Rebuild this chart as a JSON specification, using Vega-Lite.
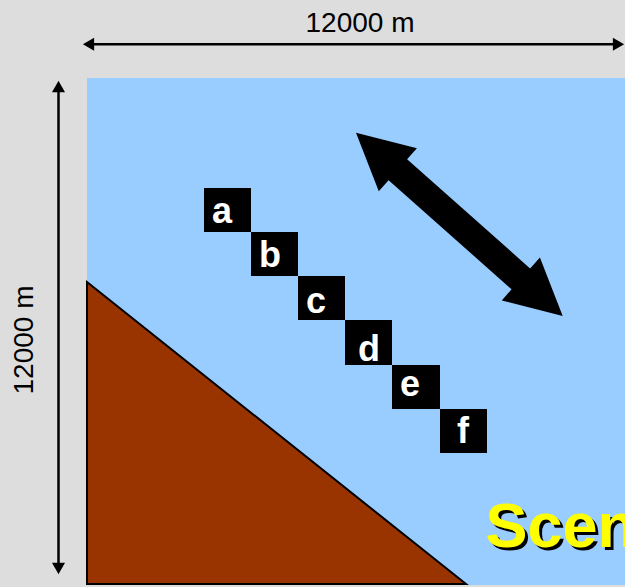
{
  "$schema": "https://vega.github.io/schema/vega-lite/v6.json",
  "width": 625,
  "height": 587,
  "padding": 0,
  "autosize": {"type": "none"},
  "background": "#dddddd",
  "config": {"view": {"stroke": null}, "font": "Liberation Sans"},
  "datasets": {
    "sea": [{"x0": 87, "x1": 640, "y0": 78, "y1": 585}],
    "seabed": [
      {"x": 87, "top": 282, "bottom": 584},
      {"x": 466, "top": 584, "bottom": 584}
    ],
    "stations": [
      {"id": "a", "x0": 204, "x1": 251, "y0": 188, "y1": 232, "lx": 222, "ly": 223},
      {"id": "b", "x0": 251, "x1": 298, "y0": 232, "y1": 276, "lx": 270, "ly": 267},
      {"id": "c", "x0": 298, "x1": 345, "y0": 276, "y1": 320, "lx": 316, "ly": 313},
      {"id": "d", "x0": 345, "x1": 392, "y0": 320, "y1": 365, "lx": 369, "ly": 361},
      {"id": "e", "x0": 392, "x1": 440, "y0": 365, "y1": 409, "lx": 410, "ly": 396},
      {"id": "f", "x0": 440, "x1": 487, "y0": 409, "y1": 453, "lx": 463, "ly": 443}
    ],
    "dimlines": [
      {"dim": "width", "x0": 88, "x1": 619, "y0": 44.3, "y1": 44.3},
      {"dim": "height", "x0": 58.5, "x1": 58.5, "y0": 86, "y1": 569}
    ],
    "heads": [
      {"dir": "left", "x": 88.5, "y": 44.3},
      {"dir": "right", "x": 618.5, "y": 44.3},
      {"dir": "up", "x": 58.5, "y": 86.5},
      {"dir": "down", "x": 58.5, "y": 568.5}
    ],
    "dimlabels": [
      {"label": "12000 m", "x": 360, "y": 31.5, "orient": "horizontal"},
      {"label": "12000 m", "x": 33, "y": 340, "orient": "vertical"}
    ],
    "motion": [{"x": 459.35, "y": 224.35}],
    "title": [{"label": "Scenario", "x": 485.5, "y": 547}]
  },
  "layer": [
    {
      "data": {"name": "sea"},
      "mark": {"type": "rect", "fill": "#99ccff"},
      "encoding": {
        "x": {"field": "x0", "type": "quantitative", "scale": {"domain": [0, 625], "nice": false, "zero": false}, "axis": null},
        "x2": {"field": "x1"},
        "y": {"field": "y0", "type": "quantitative", "scale": {"domain": [587, 0], "nice": false, "zero": false}, "axis": null},
        "y2": {"field": "y1"}
      }
    },
    {
      "data": {"name": "seabed"},
      "mark": {"type": "area", "fill": "#993300", "stroke": "#000000", "strokeWidth": 2, "opacity": 1},
      "encoding": {
        "x": {"field": "x", "type": "quantitative", "scale": {"domain": [0, 625], "nice": false, "zero": false}, "axis": null},
        "y": {"field": "top", "type": "quantitative", "scale": {"domain": [587, 0], "nice": false, "zero": false}, "axis": null},
        "y2": {"field": "bottom"}
      }
    },
    {
      "data": {"name": "stations"},
      "mark": {"type": "rect", "fill": "#000000"},
      "encoding": {
        "x": {"field": "x0", "type": "quantitative", "scale": {"domain": [0, 625], "nice": false, "zero": false}, "axis": null},
        "x2": {"field": "x1"},
        "y": {"field": "y0", "type": "quantitative", "scale": {"domain": [587, 0], "nice": false, "zero": false}, "axis": null},
        "y2": {"field": "y1"}
      }
    },
    {
      "data": {"name": "stations"},
      "mark": {"type": "text", "fill": "#ffffff", "font": "Liberation Sans", "fontWeight": "bold", "fontSize": 36, "align": "center", "baseline": "alphabetic"},
      "encoding": {
        "x": {"field": "lx", "type": "quantitative", "scale": {"domain": [0, 625], "nice": false, "zero": false}, "axis": null},
        "y": {"field": "ly", "type": "quantitative", "scale": {"domain": [587, 0], "nice": false, "zero": false}, "axis": null},
        "text": {"field": "id"}
      }
    },
    {
      "data": {"name": "motion"},
      "mark": {
        "type": "point",
        "shape": "M -1 0 L -0.595 -0.208 L -0.595 -0.101 L 0.595 -0.101 L 0.595 -0.208 L 1 0 L 0.595 0.208 L 0.595 0.101 L -0.595 0.101 L -0.595 0.208 Z",
        "size": 76342,
        "angle": 41.57,
        "filled": true,
        "fill": "#000000",
        "strokeWidth": 0,
        "opacity": 1
      },
      "encoding": {
        "x": {"field": "x", "type": "quantitative", "scale": {"domain": [0, 625], "nice": false, "zero": false}, "axis": null},
        "y": {"field": "y", "type": "quantitative", "scale": {"domain": [587, 0], "nice": false, "zero": false}, "axis": null}
      }
    },
    {
      "data": {"name": "dimlines"},
      "mark": {"type": "rule", "stroke": "#000000", "strokeWidth": 2.5},
      "encoding": {
        "x": {"field": "x0", "type": "quantitative", "scale": {"domain": [0, 625], "nice": false, "zero": false}, "axis": null},
        "x2": {"field": "x1"},
        "y": {"field": "y0", "type": "quantitative", "scale": {"domain": [587, 0], "nice": false, "zero": false}, "axis": null},
        "y2": {"field": "y1"}
      }
    },
    {
      "data": {"name": "heads"},
      "mark": {"type": "point", "filled": true, "fill": "#000000", "size": 169, "opacity": 1, "strokeWidth": 0},
      "encoding": {
        "x": {"field": "x", "type": "quantitative", "scale": {"domain": [0, 625], "nice": false, "zero": false}, "axis": null},
        "y": {"field": "y", "type": "quantitative", "scale": {"domain": [587, 0], "nice": false, "zero": false}, "axis": null},
        "shape": {"field": "dir", "type": "nominal", "scale": {"domain": ["left", "right", "up", "down"], "range": ["triangle-left", "triangle-right", "triangle-up", "triangle-down"]}, "legend": null}
      }
    },
    {
      "data": {"name": "dimlabels"},
      "transform": [{"filter": "datum.orient === 'horizontal'"}],
      "mark": {"type": "text", "fill": "#000000", "font": "Liberation Sans", "fontSize": 28, "align": "center", "baseline": "alphabetic"},
      "encoding": {
        "x": {"field": "x", "type": "quantitative", "scale": {"domain": [0, 625], "nice": false, "zero": false}, "axis": null},
        "y": {"field": "y", "type": "quantitative", "scale": {"domain": [587, 0], "nice": false, "zero": false}, "axis": null},
        "text": {"field": "label"}
      }
    },
    {
      "data": {"name": "dimlabels"},
      "transform": [{"filter": "datum.orient === 'vertical'"}],
      "mark": {"type": "text", "fill": "#000000", "font": "Liberation Sans", "fontSize": 28, "align": "center", "baseline": "alphabetic", "angle": 270},
      "encoding": {
        "x": {"field": "x", "type": "quantitative", "scale": {"domain": [0, 625], "nice": false, "zero": false}, "axis": null},
        "y": {"field": "y", "type": "quantitative", "scale": {"domain": [587, 0], "nice": false, "zero": false}, "axis": null},
        "text": {"field": "label"}
      }
    },
    {
      "data": {"name": "title"},
      "mark": {"type": "text", "fill": "#000000", "font": "Liberation Sans", "fontWeight": "bold", "fontSize": 63, "align": "left", "baseline": "alphabetic", "dx": 3, "dy": 3},
      "encoding": {
        "x": {"field": "x", "type": "quantitative", "scale": {"domain": [0, 625], "nice": false, "zero": false}, "axis": null},
        "y": {"field": "y", "type": "quantitative", "scale": {"domain": [587, 0], "nice": false, "zero": false}, "axis": null},
        "text": {"field": "label"}
      }
    },
    {
      "data": {"name": "title"},
      "mark": {"type": "text", "fill": "#ffff00", "font": "Liberation Sans", "fontWeight": "bold", "fontSize": 63, "align": "left", "baseline": "alphabetic"},
      "encoding": {
        "x": {"field": "x", "type": "quantitative", "scale": {"domain": [0, 625], "nice": false, "zero": false}, "axis": null},
        "y": {"field": "y", "type": "quantitative", "scale": {"domain": [587, 0], "nice": false, "zero": false}, "axis": null},
        "text": {"field": "label"}
      }
    }
  ]
}
